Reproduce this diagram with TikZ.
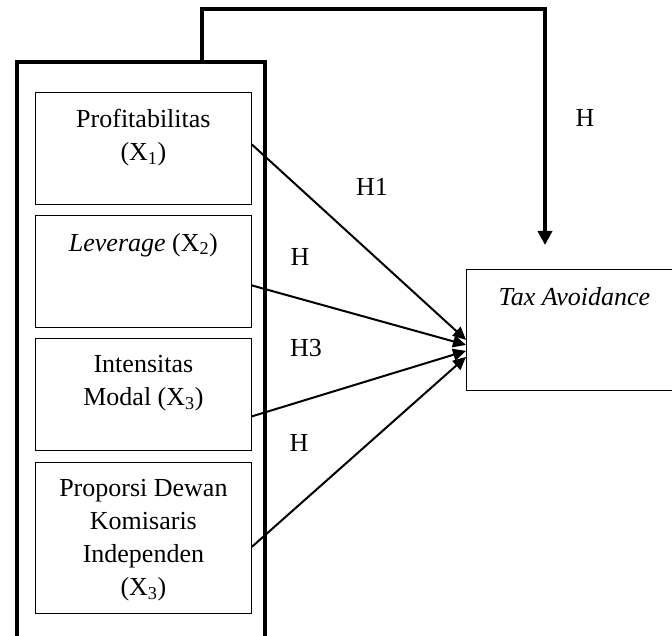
\documentclass[tikz,border=0pt]{standalone}
\usepackage{fontspec}
\setmainfont{Liberation Serif}
\usetikzlibrary{positioning, arrows.meta}

\begin{document}
\begin{tikzpicture}[
    x=1pt, y=-1pt,
    varbox/.style={
      draw, line width=0.8pt, anchor=north west,
      minimum width=216pt, minimum height=112pt, inner sep=0pt
    },
    outerbox/.style={
      draw, line width=4pt, anchor=north west,
      minimum width=248pt, minimum height=600pt, inner sep=0pt
    },
    boxtext/.style={align=center, inner sep=0pt, font=\fontsize{26}{33}\selectfont},
    hlab/.style={inner sep=0pt, font=\fontsize{26}{33}\selectfont},
    arr/.style={-{Triangle[length=13pt, width=12pt]}, line width=2pt},
    bigarr/.style={-{Triangle[length=14pt, width=14pt]}, line width=4pt},
  ]
    \useasboundingbox (0,0) rectangle (672,636);
    \clip (0,0) rectangle (672,636);
    \node[outerbox] (indep) at (15,60) {};
    \node[varbox] (prof) at (35,92) {};
    \node[varbox] (lev) at (35,215) {};
    \node[varbox] (modal) at (35,338) {};
    \node[varbox, minimum height=151pt] (dewan) at (35,462) {};
    \node[varbox, minimum height=121pt] (tax) at (466,269) {};
    \node[boxtext, below=17pt of prof.north] (proftxt) {Profitabilitas\\(X\textsubscript{1})};
    \node[boxtext, below=18pt of lev.north] (levtxt) {\textit{Leverage} (X\textsubscript{2})};
    \node[boxtext, below=17pt of modal.north] (modaltxt) {Intensitas\\Modal (X\textsubscript{3})};
    \node[boxtext, below=17pt of dewan.north] (dewantxt) {%
      Proporsi Dewan\\Komisaris\\Independen\\(X\textsubscript{3})};
    \node[boxtext, below=18pt of tax.north] (taxtxt) {\textit{Tax Avoidance}};
    \node[hlab] (h5) at (585,118) {H};
    \node[hlab] (h1) at (372,187) {H1};
    \node[hlab] (h2) at (300,257) {H};
    \node[hlab] (h3) at (306,348) {H3};
    \node[hlab] (h4) at (299,443) {H};
    \coordinate (hend) at (545,245);
    \draw[bigarr] ([xshift=61pt]indep.north) -- ++(0,-51) -| (hend);
    \draw[arr] ([yshift=4pt]prof.east) -- ([yshift=-10pt]tax.west);
    \draw[arr] ([yshift=-14pt]lev.east) -- ([yshift=-15pt]tax.west);
    \draw[arr] ([yshift=-22pt]modal.east) -- ([yshift=-21pt]tax.west);
    \draw[arr] ([yshift=-9pt]dewan.east) -- ([yshift=-27pt]tax.west);
  \end{tikzpicture}
\end{document}
